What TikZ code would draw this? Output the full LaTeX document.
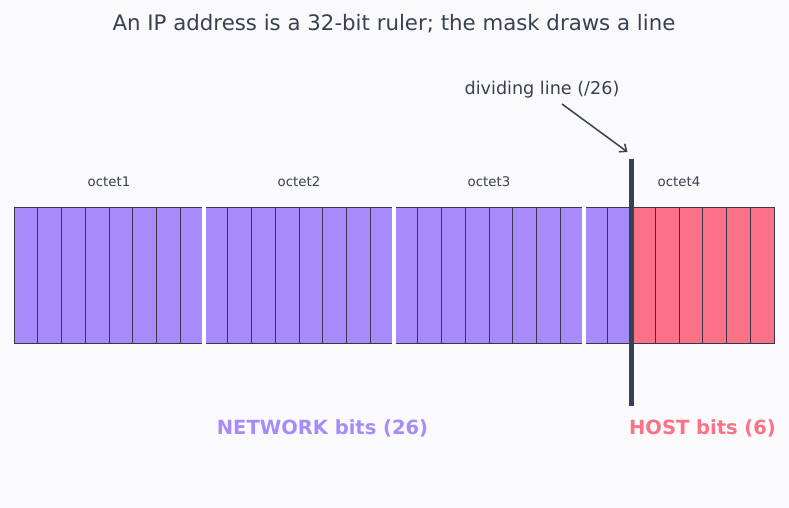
\documentclass[tikz,border=0pt]{standalone}
\usepackage{fontspec}
\setmainfont{DejaVu Sans}
\usetikzlibrary{arrows.meta,calc}
\definecolor{bgc}{HTML}{FAFAFD}
\definecolor{netc}{HTML}{A78BFA}
\definecolor{hostc}{HTML}{FB7185}
\definecolor{edgec}{HTML}{3B3550}
\definecolor{inkc}{HTML}{374151}
\definecolor{barc}{HTML}{334155}
\tikzset{
  cell/.style={draw=edgec, line width=1pt, minimum width=23.75pt, minimum height=136pt, inner sep=0pt, outer sep=0pt},
  netcell/.style={cell, fill=netc},
  hostcell/.style={cell, fill=hostc},
  octlabel/.style={font=\fontsize{13.3}{16}\selectfont, text=inkc},
  sep/.style={draw=white, line width=3.5pt},
}
\begin{document}
\begin{tikzpicture}[x=1pt,y=-1pt]
\fill[bgc] (0,0) rectangle (789,508);
\useasboundingbox (0,0) rectangle (789,508);
\node[font=\fontsize{21.3}{25}\selectfont, text=inkc] (title) at (394,24) {An IP address is a 32-bit ruler; the mask draws a line};
\foreach \i in {0,...,31}{
  \pgfmathsetmacro{\cx}{14+23.75*\i+11.875}
  \ifnum\i<26
    \node[netcell] (b\i) at (\cx,275) {};
  \else
    \node[hostcell] (b\i) at (\cx,275) {};
  \fi
}
\foreach \a in {7,15,23}{
  \draw[sep] ($(b\a.north east)+(0,-1)$) -- ($(b\a.south east)+(0,1)$);
}
\node[octlabel] (oc1) at (109,182) {octet1};
\node[octlabel] (oc2) at (299,182) {octet2};
\node[octlabel] (oc3) at (489,182) {octet3};
\node[octlabel] (oc4) at (679,182) {octet4};
\coordinate (dtop) at ($(b25.north east)+(0,-48)$);
\coordinate (dbot) at ($(b25.south east)+(0,63)$);
\draw[barc, line width=5pt] (dtop) -- (dbot);
\node[font=\fontsize{17.6}{21}\selectfont, text=inkc] (dlabel) at (542,89.5) {dividing line (/26)};
\coordinate (atip) at ($(dtop)+(-4,-7)$);
\draw[inkc, line width=1.5pt, -{Straight Barb[length=6pt,width=10pt]}] (562,104) -- (atip);
\node[font=\bfseries\fontsize{19.5}{23}\selectfont, text=netc] (netlabel) at (322.5,428.5) {NETWORK bits (26)};
\node[font=\bfseries\fontsize{19.5}{23}\selectfont, text=hostc] (hostlabel) at (702.5,428.5) {HOST bits (6)};
\end{tikzpicture}
\end{document}
